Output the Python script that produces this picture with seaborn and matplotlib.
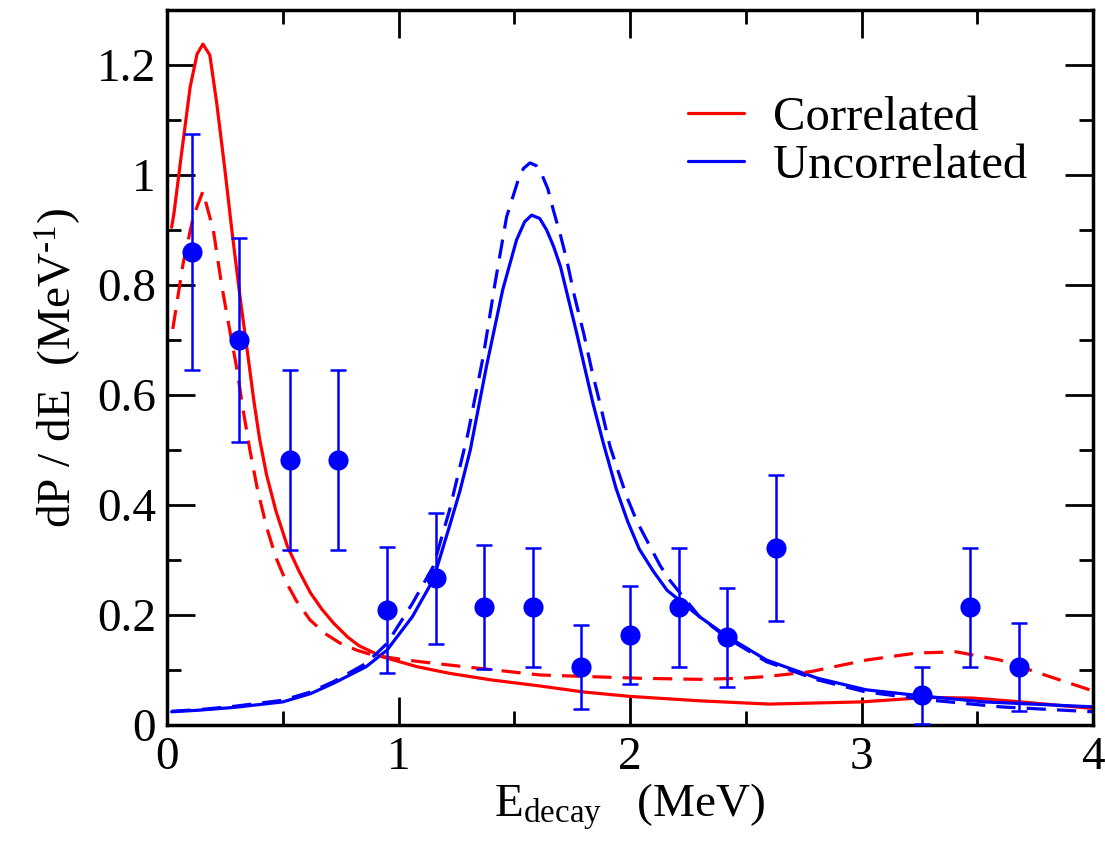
import numpy as np
import pandas as pd
import matplotlib
matplotlib.use("Agg")
import matplotlib.pyplot as plt
import seaborn as sns

# ---- data ----
pt_x = [0.11, 0.31, 0.53, 0.74, 0.95, 1.16, 1.37, 1.58, 1.79, 2.00, 2.21, 2.42, 2.63, 3.26, 3.47, 3.68]
pt_y = [0.86, 0.70, 0.482, 0.482, 0.209, 0.267, 0.214, 0.214, 0.106, 0.164, 0.214, 0.160, 0.322, 0.054, 0.214, 0.106]
pt_err = [0.215, 0.186, 0.164, 0.164, 0.115, 0.119, 0.113, 0.108, 0.076, 0.089, 0.108, 0.09, 0.132, 0.052, 0.108, 0.08]

corr_solid_x = [0.02, 0.03, 0.06, 0.10, 0.13, 0.155, 0.185, 0.215, 0.25, 0.28, 0.315, 0.35, 0.375, 0.40, 0.43,
                0.47, 0.52, 0.57, 0.62, 0.67, 0.72, 0.78, 0.83, 0.93, 1.08, 1.22, 1.40, 1.61, 1.80, 2.00, 2.30,
                2.60, 3.00, 3.28, 3.48, 3.69, 4.00]
corr_solid_y = [0.905, 0.93, 1.03, 1.16, 1.22, 1.238, 1.218, 1.13, 1.01, 0.90, 0.78, 0.67, 0.59, 0.52, 0.455,
                0.39, 0.325, 0.28, 0.24, 0.21, 0.185, 0.16, 0.144, 0.124, 0.106, 0.094, 0.082, 0.071, 0.060,
                0.052, 0.044, 0.038, 0.042, 0.050, 0.049, 0.042, 0.030]

corr_dash_x = [0.025, 0.07, 0.114, 0.155, 0.20, 0.236, 0.27, 0.30, 0.33, 0.358, 0.39, 0.43, 0.47, 0.517, 0.56,
               0.618, 0.68, 0.747, 0.82, 0.89, 1.035, 1.22, 1.61, 2.04, 2.30, 2.48, 2.59, 2.78, 3.02, 3.24, 3.41,
               3.60, 3.77, 4.00]
corr_dash_y = [0.72, 0.84, 0.925, 0.97, 0.90, 0.80, 0.72, 0.652, 0.57, 0.50, 0.43, 0.36, 0.305, 0.258, 0.225,
               0.191, 0.167, 0.149, 0.136, 0.127, 0.118, 0.109, 0.091, 0.085, 0.083, 0.085, 0.088, 0.097, 0.118,
               0.131, 0.133, 0.118, 0.094, 0.062]

unc_solid_x = [0.02, 0.14, 0.29, 0.50, 0.62, 0.72, 0.86, 0.95, 1.06, 1.15, 1.22, 1.265, 1.31, 1.38, 1.45, 1.51,
               1.545, 1.575, 1.61, 1.64, 1.67, 1.70, 1.77, 1.84, 1.885, 1.94, 1.99, 2.04, 2.10, 2.16, 2.30, 2.42,
               2.59, 2.81, 3.02, 3.28, 3.53, 4.00]
unc_solid_y = [0.024, 0.027, 0.032, 0.042, 0.057, 0.076, 0.106, 0.136, 0.197, 0.264, 0.361, 0.425, 0.50, 0.652,
               0.791, 0.882, 0.915, 0.927, 0.921, 0.90, 0.87, 0.833, 0.712, 0.585, 0.512, 0.43, 0.37, 0.32,
               0.28, 0.245, 0.197, 0.161, 0.118, 0.085, 0.064, 0.052, 0.042, 0.033]

unc_dash_x = [0.02, 0.14, 0.29, 0.50, 0.62, 0.72, 0.86, 0.95, 1.06, 1.15, 1.22, 1.30, 1.366, 1.417, 1.467, 1.52,
              1.54, 1.568, 1.595, 1.62, 1.645, 1.669, 1.70, 1.727, 1.76, 1.80, 1.835, 1.87, 1.914, 1.95, 1.986,
              2.03, 2.086, 2.13, 2.17, 2.30, 2.42, 2.59, 2.81, 3.02, 3.28, 3.60, 4.00]
unc_dash_y = [0.025, 0.028, 0.034, 0.045, 0.060, 0.079, 0.112, 0.148, 0.221, 0.288, 0.39, 0.53, 0.67, 0.803,
              0.924, 0.995, 1.012, 1.022, 1.017, 1.00, 0.975, 0.936, 0.89, 0.845, 0.78, 0.712, 0.645, 0.585,
              0.506, 0.46, 0.415, 0.37, 0.325, 0.29, 0.264, 0.197, 0.158, 0.115, 0.082, 0.060, 0.046, 0.033,
              0.024]

x_ticks = [0, 1, 2, 3, 4]
x_tick_labels = ['0', '1', '2', '3', '4']
y_ticks = [0, 0.2, 0.4, 0.6, 0.8, 1.0, 1.2]
y_tick_labels = ['0', '0.2', '0.4', '0.6', '0.8', '1', '1.2']
legend_labels = ["Correlated", "Uncorrelated"]

# ---- style ----
sns.set_theme(style="ticks")
plt.rcParams['font.family'] = ['Liberation Serif', 'DejaVu Serif']
plt.rcParams['mathtext.fontset'] = 'custom'
plt.rcParams['mathtext.rm'] = 'Liberation Serif'
plt.rcParams['mathtext.it'] = 'Liberation Serif:italic'
plt.rcParams['text.color'] = 'black'
plt.rcParams['axes.labelcolor'] = 'black'
plt.rcParams['xtick.color'] = 'black'
plt.rcParams['ytick.color'] = 'black'

fig = plt.figure(figsize=(11.05, 8.5), dpi=100)
ax = fig.add_axes([167/1105, 1-725/850, (1093-167)/1105, (725-10)/850])

RED = '#ff0000'
BLUE = '#0000ff'
LW = 2.3

df_cs = pd.DataFrame({'x': corr_solid_x, 'y': corr_solid_y})
df_cd = pd.DataFrame({'x': corr_dash_x, 'y': corr_dash_y})
df_us = pd.DataFrame({'x': unc_solid_x, 'y': unc_solid_y})
df_ud = pd.DataFrame({'x': unc_dash_x, 'y': unc_dash_y})

sns.lineplot(data=df_cs, x='x', y='y', ax=ax, color=RED, lw=LW, sort=False, label=legend_labels[0])
sns.lineplot(data=df_us, x='x', y='y', ax=ax, color=BLUE, lw=LW, sort=False, label=legend_labels[1])
sns.lineplot(data=df_cd, x='x', y='y', ax=ax, color=RED, lw=LW, sort=False)
sns.lineplot(data=df_ud, x='x', y='y', ax=ax, color=BLUE, lw=LW, sort=False)
ax.lines[2].set_dashes((6, 3.5))
ax.lines[3].set_dashes((6, 3.5))

ax.errorbar(pt_x, pt_y, yerr=pt_err, fmt='none', ecolor=BLUE, elinewidth=1.8, capsize=5.8, capthick=1.8, zorder=3)
sns.scatterplot(x=pt_x, y=pt_y, ax=ax, color=BLUE, s=210, edgecolor=BLUE, linewidth=0, zorder=4)

ax.set_xlim(0, 4)
ax.set_ylim(0, 1.3)
ax.set_xticks(x_ticks)
ax.set_xticklabels(x_tick_labels)
ax.set_xticks([0.5, 1.5, 2.5, 3.5], minor=True)
ax.set_yticks(y_ticks)
ax.set_yticklabels(y_tick_labels)
ax.set_yticks([0.1, 0.3, 0.5, 0.7, 0.9, 1.1], minor=True)

ax.tick_params(which='both', direction='in', top=True, right=True, width=2, color='black')
ax.tick_params(which='major', length=20, labelsize=34, pad=8, labelcolor='black')
ax.tick_params(which='minor', length=10)
for s in ax.spines.values():
    s.set_linewidth(2.5)
    s.set_color('black')

ax.set_xlabel(r'E$_{\rm decay}$   (MeV)', fontsize=34, labelpad=2, color='black')
ax.set_ylabel(r'dP / dE  (MeV$^{\text{-1}}$)', fontsize=34, labelpad=10, color='black')

leg = ax.legend(loc='upper right', bbox_to_anchor=(0.95, 0.907), frameon=False, fontsize=35,
                handlelength=1.15, handletextpad=0.6, labelspacing=0.09, borderaxespad=0)
for t in leg.get_texts():
    t.set_color('black')

fig.savefig('out.png', dpi=100)
